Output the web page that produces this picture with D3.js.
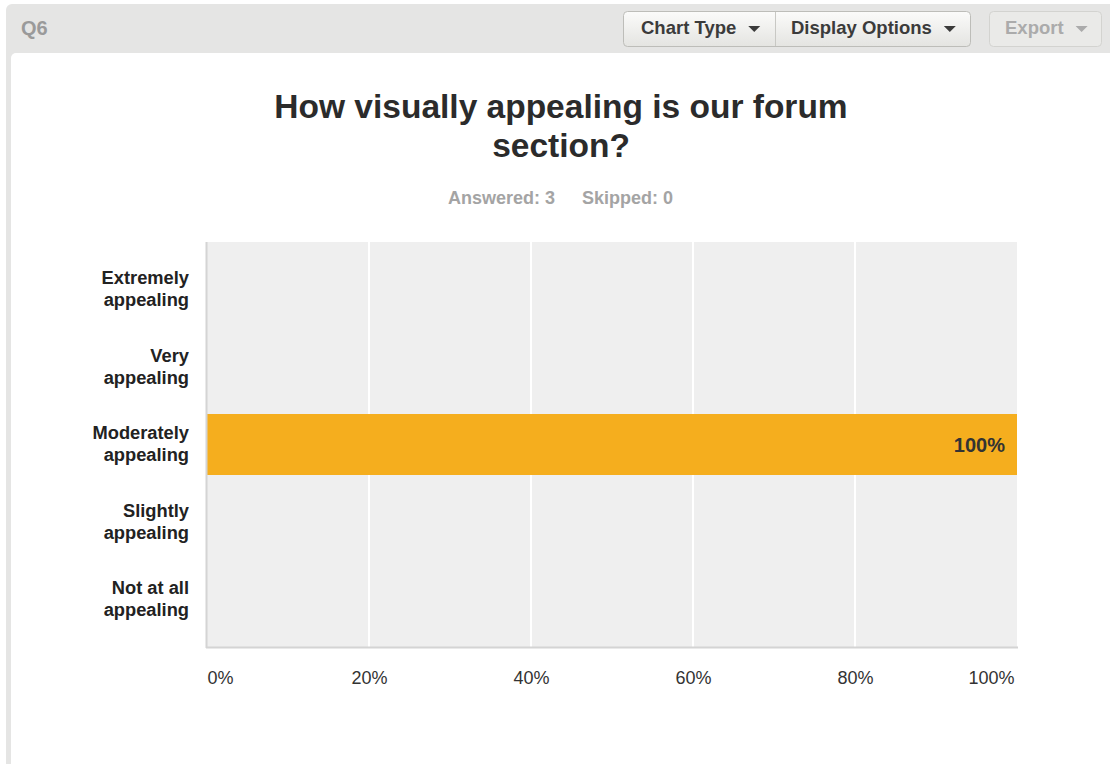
<!DOCTYPE html>
<html>
<head>
<meta charset="utf-8">
<script src="https://cdn.jsdelivr.net/npm/d3@7"></script>
<style>
  html, body { margin: 0; padding: 0; background: #ffffff; }
  body { width: 1110px; height: 764px; overflow: hidden; font-family: "Liberation Sans", Arial, sans-serif; }
</style>
</head>
<body>
<svg id="chart" width="1110" height="764"></svg>
<script>
// Survey question and its answer choices
const questionId = "Q6";
const titleLines = ["How visually appealing is our forum", "section?"];
const answered = 3;
const skipped = 0;
const categories = [
  ["Extremely", "appealing"],
  ["Very", "appealing"],
  ["Moderately", "appealing"],
  ["Slightly", "appealing"],
  ["Not at all", "appealing"]
];
const shares = [0, 0, 1, 0, 0];
const tickValues = [0, 0.2, 0.4, 0.6, 0.8, 1];
const buttons = [
  { label: "Chart Type", disabled: false },
  { label: "Display Options", disabled: false },
  { label: "Export", disabled: true }
];

const svg = d3.select("#chart");
const font = "'Liberation Sans', Arial, sans-serif";

// Grey panel with header strip
svg.append("rect").attr("x", 6).attr("y", 4).attr("width", 1120).attr("height", 780)
  .attr("rx", 6).attr("fill", "#e5e5e4");
svg.append("rect").attr("x", 11).attr("y", 53).attr("width", 1120).attr("height", 760)
  .attr("rx", 5).attr("fill", "#ffffff");

svg.append("text").attr("x", 21).attr("y", 35).attr("font-family", font)
  .attr("font-size", 20).attr("font-weight", "bold").attr("fill", "#9a9a9a").text(questionId);

// Toolbar buttons
const defs = svg.append("defs");
const grad = defs.append("linearGradient").attr("id", "btnGrad").attr("x1", 0).attr("y1", 0).attr("x2", 0).attr("y2", 1);
grad.append("stop").attr("offset", "0%").attr("stop-color", "#fbfbfa");
grad.append("stop").attr("offset", "100%").attr("stop-color", "#e4e4e1");

const btnX = [623, 775, 989];
const btnPad = [18, 16, 16];
svg.append("rect").attr("x", 623.5).attr("y", 11.5).attr("width", 347).attr("height", 35)
  .attr("rx", 4).attr("fill", "url(#btnGrad)").attr("stroke", "#bdbdb9");
svg.append("line").attr("x1", 775.5).attr("x2", 775.5).attr("y1", 12).attr("y2", 46).attr("stroke", "#c8c8c4");
svg.append("rect").attr("x", 989.5).attr("y", 11.5).attr("width", 112).attr("height", 35)
  .attr("rx", 4).attr("fill", "#eaeae8").attr("stroke", "#d3d3d0");

buttons.forEach((b, i) => {
  const g = svg.append("g");
  const col = b.disabled ? "#ababab" : "#3b3b3b";
  const t = g.append("text").attr("x", btnX[i] + btnPad[i]).attr("y", 34)
    .attr("font-family", font).attr("font-size", 18.5)
    .attr("font-weight", "bold").attr("fill", col).text(b.label);
  const cx = btnX[i] + btnPad[i] + t.node().getComputedTextLength() + 18;
  g.append("path").attr("d", `M${cx - 6},26 L${cx + 6},26 L${cx},32 Z`).attr("fill", col);
});

// Title and response counts
svg.append("text").attr("x", 561).attr("y", 118).attr("text-anchor", "middle")
  .attr("font-family", font).attr("font-size", 33.5).attr("font-weight", "bold").attr("fill", "#2b2b2b")
  .selectAll("tspan").data(titleLines).join("tspan")
  .attr("x", 561).attr("dy", (d, i) => i === 0 ? 0 : 39).text(d => d);

const counts = svg.append("text").attr("y", 204).attr("font-family", font).attr("font-size", 18)
  .attr("font-weight", "bold").attr("fill", "#a4a4a4");
counts.append("tspan").attr("x", 448).text("Answered: " + answered);
counts.append("tspan").attr("x", 582).text("Skipped: " + skipped);

// Plot area
const plotL = 207, plotR = 1017, plotT = 242, plotB = 647;
const x = d3.scaleLinear().domain([0, 1]).range([plotL, plotR]);
const y = d3.scaleBand().domain(d3.range(categories.length)).range([plotT, plotB]).paddingInner(0.247).paddingOuter(0.1235);
// Category labels sit on a slightly tighter spacing than the bands
const yLabel = d3.scalePoint().domain(d3.range(categories.length)).range([plotT + 47, plotB - 48]);

svg.append("rect").attr("x", plotL).attr("y", plotT).attr("width", plotR - plotL).attr("height", plotB - plotT)
  .attr("fill", "#efefef");

// Vertical gridlines
svg.append("g").selectAll("line").data(tickValues.slice(1, -1)).join("line")
  .attr("x1", d => x(d)).attr("x2", d => x(d)).attr("y1", plotT).attr("y2", plotB)
  .attr("stroke", "#ffffff").attr("stroke-width", 2);

// Bars
svg.append("g").selectAll("rect").data(shares).join("rect")
  .attr("x", x(0)).attr("y", (d, i) => y(i)).attr("width", d => x(d) - x(0))
  .attr("height", y.bandwidth()).attr("fill", "#f5ae1e");

// Value label
svg.append("g").selectAll("text").data(shares.map((v, i) => ({ v, i })).filter(d => d.v > 0)).join("text")
  .attr("x", d => x(d.v) - 12).attr("y", d => y(d.i) + y.bandwidth() / 2 + 7)
  .attr("text-anchor", "end").attr("font-family", font).attr("font-size", 20).attr("font-weight", "bold")
  .attr("fill", "#333333").text(d => d3.format(".0%")(d.v));

// Axis lines
svg.append("line").attr("x1", plotL - 0.5).attr("x2", plotL - 0.5).attr("y1", plotT).attr("y2", plotB + 1)
  .attr("stroke", "#d4d4d4").attr("stroke-width", 2);
svg.append("line").attr("x1", plotL - 1).attr("x2", plotR + 1).attr("y1", plotB + 0.5).attr("y2", plotB + 0.5)
  .attr("stroke", "#d4d4d4").attr("stroke-width", 2);

// X tick labels; the outermost labels are kept inside the plot edges
const xAxis = d3.axisBottom(x).tickValues(tickValues).tickFormat(d3.format(".0%")).tickSize(0).tickPadding(0);
const gx = svg.append("g").attr("transform", `translate(0,${plotB + 37})`).call(xAxis);
gx.select(".domain").remove();
gx.selectAll("text").attr("font-family", font).attr("font-size", 18).attr("fill", "#333333")
  .attr("dy", 0)
  .attr("text-anchor", (d, i) => i === 0 ? "start" : i === tickValues.length - 1 ? "end" : "middle")
  .attr("x", (d, i) => i === tickValues.length - 1 ? -3 : 0);

// Category labels
const gy = svg.append("g");
categories.forEach((lines, i) => {
  const cy = yLabel(i);
  gy.append("text").attr("text-anchor", "end").attr("font-family", font).attr("font-size", 18.3)
    .attr("font-weight", "bold").attr("fill", "#222222")
    .selectAll("tspan").data(lines).join("tspan")
    .attr("x", 189).attr("y", (d, j) => cy - 5 + j * 22).text(d => d);
});
</script>
</body>
</html>
